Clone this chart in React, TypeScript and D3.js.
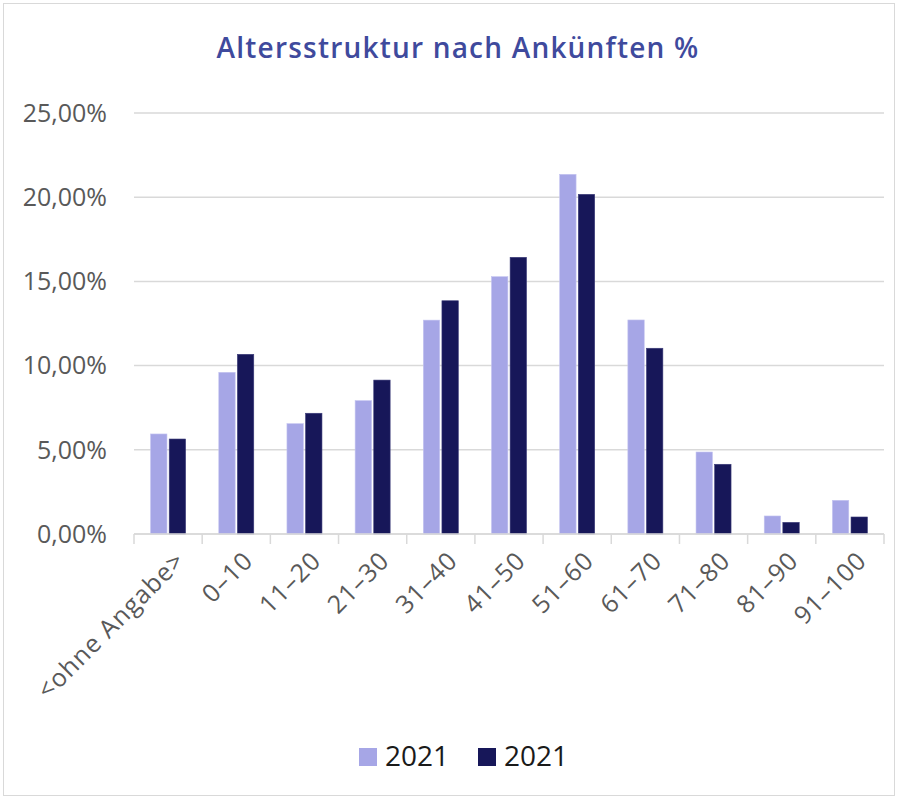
import React from 'react';
import * as d3 from 'd3';

const categories = ['<ohne Angabe>', '0–10', '11–20', '21–30', '31–40', '41–50', '51–60', '61–70', '71–80', '81–90', '91–100'];
const seriesNames = ['2021', '2021'];
const seriesA = [5.94, 9.6, 6.55, 7.92, 12.7, 15.28, 21.36, 12.71, 4.87, 1.07, 2.0];
const seriesB = [5.64, 10.67, 7.17, 9.14, 13.85, 16.43, 20.17, 11.03, 4.14, 0.69, 1.01];
const yTicks = [0, 5, 10, 15, 20, 25];
const colors = ['#a6a6e6', '#171759'];

const width = 898;
const height = 799;
const margin = { top: 113, right: 14, bottom: 265, left: 134 };

const App = () => {
  const innerWidth = width - margin.left - margin.right;
  const innerHeight = height - margin.top - margin.bottom;

  const x = d3.scaleBand().domain(categories).range([0, innerWidth]);
  const xInner = d3.scaleBand()
    .domain(['a', 'b'])
    .range([0, 35])
    .paddingInner(0.12);
  const y = d3.scaleLinear().domain([0, 25]).range([innerHeight, 0]);
  const fmt = (v: number) => v.toFixed(2).replace('.', ',') + '%';
  const groupOffset = (x.bandwidth() - 35) / 2;

  const labelFont = '"Open Sans", sans-serif';

  return (
    <svg width={width} height={height} style={{ position: 'absolute', left: 0, top: 0 }}>
      <rect x={3.5} y={3.5} width={width - 7} height={height - 7} fill="#fff" stroke="#d9d9d9" />
      <text x={458} y={58} textAnchor="middle" fontFamily={labelFont} fontSize={28} fontWeight={600} fill="#3f4a9d" letterSpacing={1.2}>
        Altersstruktur nach Ankünften %
      </text>
      <g transform={`translate(${margin.left},${margin.top})`}>
        {yTicks.map(t => (
          <g key={t}>
            <line x1={0} x2={innerWidth} y1={y(t)} y2={y(t)} stroke="#d9d9d9" strokeWidth={1.5} />
            <text x={-27} y={y(t)} dy="0.35em" textAnchor="end" fontFamily={labelFont} fontSize={25} fill="#595959">
              {fmt(t)}
            </text>
          </g>
        ))}
        {categories.map((c, i) => (
          <g key={c} transform={`translate(${x(c)},0)`}>
            <line x1={0} x2={0} y1={innerHeight} y2={innerHeight + 10} stroke="#d9d9d9" strokeWidth={1.5} />
            {i === categories.length - 1 && (
              <line x1={x.bandwidth()} x2={x.bandwidth()} y1={innerHeight} y2={innerHeight + 10} stroke="#d9d9d9" strokeWidth={1.5} />
            )}
            {[seriesA[i], seriesB[i]].map((v, j) => (
              <rect
                key={j}
                x={groupOffset + (xInner(j === 0 ? 'a' : 'b') as number)}
                y={y(v)}
                width={xInner.bandwidth()}
                height={innerHeight - y(v)}
                fill={colors[j]}
                stroke={j === 0 ? '#c4c4f0' : '#3a3a78'}
                strokeWidth={0.6}
              />
            ))}
            <text
              transform={`translate(${x.bandwidth() / 2 + 12},${innerHeight + 22}) rotate(-45)`}
              textAnchor="end"
              dy="0.35em"
              fontFamily={labelFont}
              fontSize={25}
              letterSpacing={1}
              fill="#595959"
            >
              {c}
            </text>
          </g>
        ))}
        <line x1={0} x2={innerWidth} y1={innerHeight} y2={innerHeight} stroke="#d9d9d9" strokeWidth={1.5} />
      </g>
      <g>
        {seriesNames.map((s, j) => (
          <g key={j} transform={`translate(${359 + j * 119},748)`}>
            <rect x={0} y={0} width={18} height={18} fill={colors[j]} />
            <text x={26} y={18} fontFamily={labelFont} fontSize={28} fill="#1a1a1a">
              {s}
            </text>
          </g>
        ))}
      </g>
    </svg>
  );
};

export default App;
